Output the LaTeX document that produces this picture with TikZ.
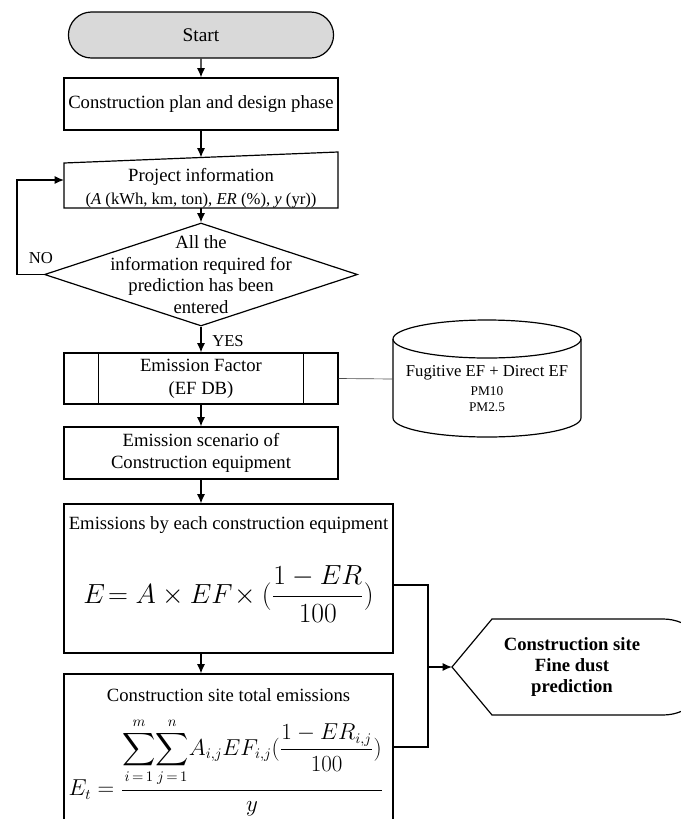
\documentclass[tikz,border=0pt]{standalone}
\usepackage{amsmath}
\usepackage{fontspec}
\setmainfont{Liberation Serif}
\usetikzlibrary{arrows.meta}
\usetikzlibrary{shapes.geometric}
\usetikzlibrary{shapes.misc}
\tikzset{>={Latex[length=7pt,width=6pt]}}
\tikzstyle{flowline}=[draw=black,line width=0.9pt]
\tikzstyle{thinline}=[draw=black!70,line width=0.5pt]
\tikzstyle{labeltext}=[inner sep=0pt,align=center,font=\fontsize{14}{17}\selectfont]
\tikzstyle{procbox}=[rectangle,draw=black,line width=0.9pt,inner sep=0pt,align=center,minimum width=205.5pt,font=\fontsize{14}{17}\selectfont]
\tikzstyle{startbox}=[rounded rectangle,draw=black,line width=0.9pt,fill=black!15,minimum width=205.5pt,minimum height=34.5pt,font=\fontsize{14.5}{17}\selectfont]
\tikzstyle{decision}=[diamond,draw=black,line width=0.9pt,minimum width=234.75pt,minimum height=77.25pt,inner sep=0pt]

\begin{document}
\begin{tikzpicture}[x=0.75pt,y=-0.75pt]
  \useasboundingbox (0,0) rectangle (681,819);
  \clip (0,0) rectangle (681,819);

  % main column
  \node[startbox] (start) at (201,35) {Start};
  \node[procbox,minimum height=39pt] (plan) at (201,104) {Construction plan and design phase};

  % manual input
  \coordinate (infotop) at (201,157.5);
  \coordinate (infobottom) at (201,208);
  \coordinate (infoleft) at (64,180);
  \draw[flowline] (64,163) -- (338,152) -- (338,208) -- (64,208) -- cycle;
  \node[labeltext] (info) at (201,188.5) {Project information\\{\fontsize{12.5}{15}\selectfont(\textit{A} (kWh, km, ton), \textit{ER} (\%), \textit{y} (yr))}};

  % decision
  \node[decision] (check) at (201,274.5) {};
  \node[labeltext,font=\fontsize{14}{16.3}\selectfont] (checktext) at (201,274.5) {All the\\information required for\\prediction has been\\entered};
  \coordinate (loop) at (17,180);
  \node[labeltext,font=\fontsize{12.5}{15}\selectfont] (nolabel) at (41,258) {NO};
  \node[labeltext,font=\fontsize{12.5}{15}\selectfont] (yeslabel) at (228,341) {YES};

  \node[procbox,minimum height=38.25pt] (ef) at (201,378.5) {Emission Factor\\(EF DB)};
  \draw[flowline] ([xshift=26.25pt]ef.north west) -- ([xshift=26.25pt]ef.south west);
  \draw[flowline] ([xshift=-26.25pt]ef.north east) -- ([xshift=-26.25pt]ef.south east);

  % database
  \draw[flowline] (393,339) -- (393,418) arc[start angle=180,end angle=360,x radius=70.5pt,y radius=14.25pt] -- (581,339);
  \draw[flowline] (487,339) ellipse [x radius=70.5pt,y radius=14.25pt];
  \coordinate (dbwest) at (393,379);
  \node[labeltext,font=\fontsize{12.5}{15}\selectfont] (db) at (487,373) {Fugitive EF + Direct EF};
  \node[labeltext,font=\fontsize{10}{12}\selectfont] (pm) at (487,399) {PM10\\PM2.5};

  \node[procbox,minimum height=39pt] (scen) at (201,453) {Emission scenario of\\Construction equipment};

  \node[procbox,minimum width=246.75pt,minimum height=111.75pt] (emis) at (228.5,578.5) {};
  \node[labeltext] (emistitle) at (228.5,525) {Emissions by each construction equipment};
  \node[labeltext,font=\fontsize{22}{26}\selectfont] (emisformula) at (228.5,594) {$\displaystyle E\!= A\times EF\!\times(\frac{1-ER}{100})$};

  \node[procbox,minimum width=246.75pt,minimum height=120pt] (total) at (228.5,754) {};
  \node[labeltext] (totaltitle) at (228.5,695) {Construction site total emissions};
  \node[labeltext,font=\fontsize{16}{19}\selectfont] (totalformula) at (226,767) {$\displaystyle E_t=\frac{\displaystyle\sum_{i\,=\,1}^{m}\!\sum_{j\,=\,1}^{n}\!A_{i,j}EF_{i,j}(\frac{1-ER_{i,j}}{100})}{y}$};

  % output
  \coordinate (predtip) at (452,667);
  \draw[flowline] (predtip) -- (492,619) -- (663,619) arc[start angle=90,end angle=-90,radius=36pt] -- (492,715) -- cycle;
  \node[labeltext,font=\fontsize{14}{16}\selectfont\bfseries] (pred) at (572,667) {Construction site\\Fine dust\\prediction};
  \coordinate (emisout) at (393,585);
  \coordinate (totalout) at (393,747);
  \coordinate (joint) at (428,667);

  % connectors
  \draw[flowline,->] (start) -- (plan);
  \draw[flowline,->] (plan) -- (infotop);
  \draw[flowline,->] (infobottom) -- (check.north);
  \draw[flowline,->] (check.west) -| (loop) -- (infoleft);
  \draw[flowline,->] (check.south) -- (ef.north);
  \draw[thinline] (ef.east) -- (dbwest);
  \draw[flowline,->] (ef.south) -- (scen.north);
  \draw[flowline,->] (scen.south) -- (scen.south |- emis.north);
  \draw[flowline,->] (scen.south |- emis.south) -- (scen.south |- total.north);
  \draw[flowline] (emisout) -| (joint);
  \draw[flowline] (totalout) -| (joint);
  \draw[flowline,->] (joint) -- (predtip);
\end{tikzpicture}
\end{document}
